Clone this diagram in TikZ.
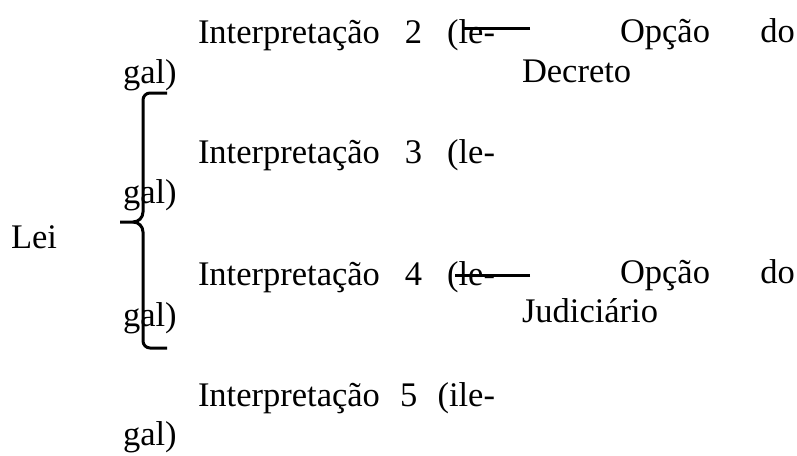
\documentclass[tikz,border=0pt]{standalone}
\usepackage{fontspec}
\setmainfont{Liberation Serif}
\tikzset{
  txt/.style={anchor=base west, inner sep=0pt, outer sep=0pt, font=\fontsize{34.5}{40}\selectfont},
  thick3/.style={line width=3pt, line cap=butt}
}
\begin{document}
\begin{tikzpicture}[x=1pt,y=-1pt]
\useasboundingbox (0,0) rectangle (797,455);
% left column
\node[txt] (i2) at (198,43) {\makebox[297pt][s]{Interpretação 2 (le-}};
\node[txt] (g2) at (123,83) {gal)};
\node[txt] (i3) at (198,163) {\makebox[297pt][s]{Interpretação 3 (le-}};
\node[txt] (g3) at (123,203) {gal)};
\node[txt] (i4) at (198,285) {\makebox[297pt][s]{Interpretação 4 (le-}};
\node[txt] (g4) at (123,326) {gal)};
\node[txt] (i5) at (198,406) {\makebox[297pt][s]{Interpretação 5 (ile-}};
\node[txt] (g5) at (123,445) {gal)};
% Lei
\node[txt] (lei) at (11,248) {Lei};
% right column
\node[txt] (o1) at (620,42) {\makebox[175pt][s]{Opção do}};
\node[txt] (dec) at (522,82) {Decreto};
\node[txt] (o2) at (620,283) {\makebox[175pt][s]{Opção do}};
\node[txt] (jud) at (522,322) {Judiciário};
% connectors
\coordinate (c1a) at (530,28);
\coordinate (c1b) at (463,28);
\coordinate (c2a) at (530,275);
\coordinate (c2b) at (455,275);
\draw[thick3] (c1a) -- (c1b);
\draw[thick3] (c2a) -- (c2b);
% bracket
\coordinate (bt) at (167,93);
\coordinate (bm) at (120,222);
\coordinate (bb) at (167,348);
\draw[thick3] (bt) -- (150,93) to[out=180,in=90] (143,100) -- (143,212)
  to[out=-90,in=0] (133,222) -- (bm);
\draw[thick3] (133,222) to[out=0,in=90] (143,232) -- (143,341)
  to[out=-90,in=180] (150,348) -- (bb);
\end{tikzpicture}
\end{document}
